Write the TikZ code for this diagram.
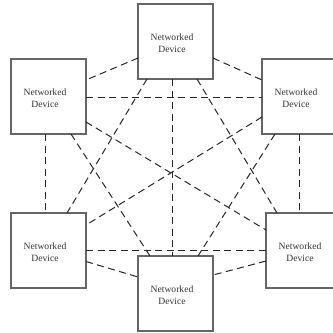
\documentclass[tikz,border=0pt]{standalone}
\usepackage{fontspec}
\setmainfont{Liberation Serif}
\begin{document}
\begin{tikzpicture}[x=1pt,y=-1pt,
  device/.style={draw=black!60,line width=1.1pt,rectangle,minimum width=75pt,
    minimum height=75pt,inner sep=0pt,outer sep=0pt,
    label={[align=center,font=\fontsize{9.6pt}{12pt}\selectfont,text=black!80,
      xshift=-3.5pt,yshift=-1.5pt]center:Networked\\Device}},
  link/.style={draw=black!85,line width=1pt,dash pattern=on 7pt off 4.5pt}]
  \useasboundingbox (0,0) rectangle (333,333);
  \clip (0,0) rectangle (333,333);
  % devices
  \node[device] (T)  at (175.5,41.5)  {};
  \node[device] (UL) at (48.5,96.5)   {};
  \node[device] (UR) at (299.5,96.5)  {};
  \node[device] (LL) at (48.5,250.5)  {};
  \node[device] (LR) at (303.5,250.5) {};
  \node[device] (B)  at (175.5,293.5) {};
  % full mesh of links
  \draw[link] ([yshift=-54pt]T.north west) -- ([yshift=-21pt]UL.north east);
  \draw[link] ([yshift=-54pt]T.north east) -- ([yshift=-21pt]UR.north west);
  \draw[link] ([xshift=34pt]T.south west) -- ([xshift=34pt]B.north west);
  \draw[link] ([xshift=9pt]T.south west) -- ([xshift=56pt]LL.north west);
  \draw[link] ([xshift=59pt]T.south west) -- ([xshift=11pt]LR.north west);
  \draw[link] ([yshift=-38pt]UL.north east) -- ([yshift=-38pt]UR.north west);
  \draw[link] ([xshift=34pt]UL.south west) -- ([xshift=34pt]LL.north west);
  \draw[link] ([yshift=-63pt]UL.north east) -- ([yshift=-17pt]LR.north west);
  \draw[link] ([xshift=60pt]UL.south west) -- ([xshift=12pt]B.north west);
  \draw[link] ([yshift=-58pt]UR.north west) -- ([yshift=-12pt]LL.north east);
  \draw[link] ([xshift=13pt]UR.south west) -- ([xshift=60pt]B.north west);
  \draw[link] ([xshift=37pt]UR.south west) -- ([xshift=33pt]LR.north west);
  \draw[link] ([yshift=-37pt]LL.north east) -- ([yshift=-37pt]LR.north west);
  \draw[link] ([yshift=-48.5pt]LL.north east) -- ([yshift=-21pt]B.north west);
  \draw[link] ([yshift=-48pt]LR.north west) -- ([yshift=-19pt]B.north east);
\end{tikzpicture}
\end{document}
